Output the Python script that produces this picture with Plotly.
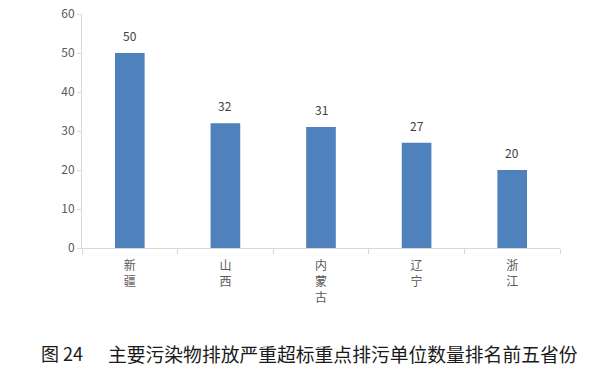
import plotly.graph_objects as go

provinces = ["新疆", "山西", "内蒙古", "辽宁", "浙江"]
counts = [50, 32, 31, 27, 20]
y_ticks = [0, 10, 20, 30, 40, 50, 60]
fig_label = "图 24"
caption = "主要污染物排放严重超标重点排污单位数量排名前五省份"

font_family = "Noto Sans CJK SC, Microsoft YaHei, sans-serif"
axis_color = "#d9d9d9"
label_color = "#595959"

tick_text = ["<br>".join(list(p)) for p in provinces]

fig = go.Figure()
fig.add_trace(go.Bar(
    x=provinces, y=counts,
    marker=dict(color="#4f81bd", line=dict(width=0)),
    width=0.31,
    hoverinfo="skip",
))

for p, v in zip(provinces, counts):
    fig.add_annotation(
        x=p, y=v, text=str(v), showarrow=False,
        yanchor="bottom", yshift=7,
        font=dict(family=font_family, size=12, color="#404040"),
    )

fig.add_annotation(
    xref="paper", yref="paper", x=-0.09, y=-0.45,
    xanchor="left", yanchor="middle", text=fig_label, showarrow=False,
    font=dict(family=font_family, size=18, color="#1a1a1a"),
)
fig.add_annotation(
    xref="paper", yref="paper", x=0.05, y=-0.45,
    xanchor="left", yanchor="middle", text=caption, showarrow=False,
    font=dict(family=font_family, size=18.8, color="#1a1a1a"),
)

fig.update_layout(
    width=600, height=370,
    margin=dict(l=82, r=40, t=14, b=122, autoexpand=False),
    paper_bgcolor="white", plot_bgcolor="white",
    showlegend=False,
    font=dict(family=font_family, size=12, color=label_color),
)
fig.update_xaxes(
    tickmode="array", tickvals=provinces, ticktext=tick_text,
    tickson="boundaries", ticks="outside", ticklen=5, tickcolor=axis_color,
    showline=True, linecolor=axis_color, linewidth=1,
    showgrid=False, zeroline=False, automargin=False,
    ticklabelstandoff=7,
    tickfont=dict(family=font_family, size=12, color=label_color),
)
fig.update_yaxes(
    range=[0, 60], tickvals=y_ticks,
    ticks="outside", ticklen=4, tickcolor=axis_color,
    showline=True, linecolor=axis_color, linewidth=1,
    showgrid=False, zeroline=False, automargin=False,
    tickfont=dict(family=font_family, size=12, color=label_color),
)

fig.write_html("out.html")
